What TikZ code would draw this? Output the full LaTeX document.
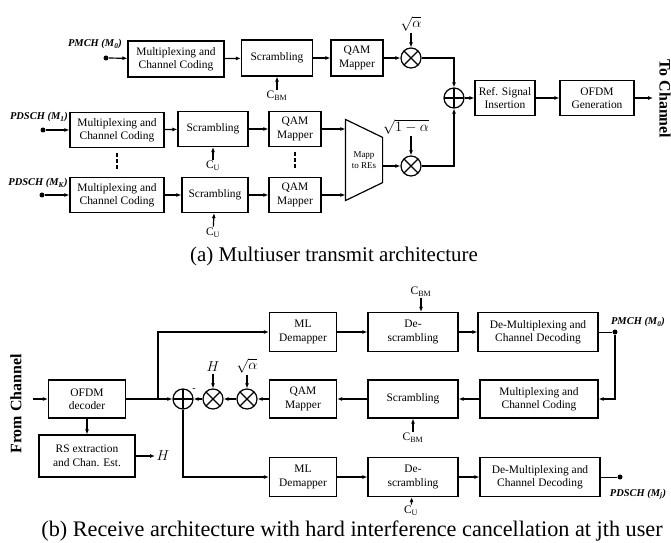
\documentclass[tikz,border=0pt]{standalone}
\usepackage{fontspec}
\setmainfont{Liberation Serif}
\usetikzlibrary{arrows.meta, positioning}

\begin{document}
\begin{tikzpicture}[x=1bp, y=-1bp, line width=1.2bp, >={Latex[length=5bp,width=4bp]},
  block/.style={draw, align=center, minimum height=36bp, inner sep=1bp,
    font=\fontsize{11.5}{13.5}\selectfont},
  mult/.style={draw, circle, minimum size=20bp, inner sep=0pt,
    path picture={\draw (path picture bounding box.north west) -- (path picture bounding box.south east)
      (path picture bounding box.north east) -- (path picture bounding box.south west);}},
  summ/.style={draw, circle, minimum size=20bp, inner sep=0pt,
    path picture={\draw (path picture bounding box.north) -- (path picture bounding box.south)
      (path picture bounding box.east) -- (path picture bounding box.west);}},
  cseq/.style={font=\fontsize{11.5}{13}\selectfont, inner sep=1bp},
  chanlbl/.style={font=\fontsize{10.5}{12}\selectfont\bfseries\itshape, inner sep=1bp},
  sidelbl/.style={font=\fontsize{16}{18}\selectfont\bfseries, inner sep=0pt},
  tap/.style={circle, fill, inner sep=0pt, minimum size=5bp},
  gain/.style={font=\fontsize{15}{17}\selectfont, inner sep=1bp},
  capt/.style={font=\fontsize{21}{24}\selectfont},
  vdots/.style={dash pattern=on 4bp off 2bp, line width=1.5bp}]
\useasboundingbox (0,0) rectangle (671,543);

% (a) transmitter
\node[tap] (in0) at (106,58) {};
\node[chanlbl] at (95,44) {PMCH (M\textsubscript{0})};
\node[block, minimum width=96bp] (mux0) at (176,59) {Multiplexing and\\Channel Coding};
\node[block, minimum width=71bp] (scr0) at (277,58) {Scrambling};
\node[cseq] (cbm0) at (277,96) {C\textsubscript{BM}};
\node[block, minimum width=52bp] (qam0) at (357,58) {QAM\\Mapper};
\node[mult] (mul0) at (411,58) {};
\node[gain] (a0) at (411,24) {$\sqrt{\alpha}$};
\node[summ] (sum) at (454,98) {};
\node[block, minimum width=60bp, minimum height=35bp] (rsi) at (505,98) {Ref. Signal\\Insertion};
\node[block, minimum width=74bp, minimum height=35bp] (ofdm) at (597,98) {OFDM\\Generation};
\coordinate (out) at (653,98);
\node[sidelbl, rotate=-90] at (665,99) {To Channel};

\node[tap] (in1) at (43,130) {};
\node[chanlbl] at (39,117) {PDSCH (M\textsubscript{1})};
\node[block, minimum width=94bp, minimum height=35bp] (mux1) at (117,130) {Multiplexing and\\Channel Coding};
\node[block, minimum width=70bp, minimum height=35bp] (scr1) at (213,129) {Scrambling};
\node[cseq] (cu1) at (213,166) {C\textsubscript{U}};
\node[block, minimum width=52bp, minimum height=35bp] (qam1) at (295,129) {QAM\\Mapper};

\node[tap] (inK) at (42,195) {};
\node[chanlbl] at (38,183) {PDSCH (M\textsubscript{K})};
\node[block, minimum width=94bp, minimum height=35bp] (muxK) at (117,195) {Multiplexing and\\Channel Coding};
\node[block, minimum width=66bp, minimum height=35bp] (scrK) at (215,195) {Scrambling};
\node[cseq] (cuK) at (213,233) {C\textsubscript{U}};
\node[block, minimum width=52bp, minimum height=35bp] (qamK) at (295,195) {QAM\\Mapper};

\node[font=\fontsize{9}{10.5}\selectfont, align=center, minimum width=36bp, minimum height=80bp,
  inner sep=0pt] (map) at (364,160) {Mapp\\to REs};
\draw (map.north west) -- ([yshift=-18bp]map.north east) -- ([yshift=18bp]map.south east)
  -- (map.south west) -- cycle;
\node[mult] (mul1) at (411,166) {};
\node[gain] (a1) at (406,127) {$\sqrt{1-\alpha}$};

\path[->]
  (in0) edge (mux0)
  (mux0) edge (scr0)
  (scr0) edge (qam0)
  (qam0) edge (mul0)
  (a0) edge (mul0)
  (cbm0) edge (scr0)
  (sum) edge (rsi)
  (rsi) edge (ofdm)
  (ofdm) edge (out)
  (in1) edge (mux1)
  (mux1) edge (scr1)
  (scr1) edge (qam1)
  (cu1) edge (scr1)
  (inK) edge (muxK)
  (muxK) edge (scrK)
  (scrK) edge (qamK)
  (cuK) edge (scrK)
  (qam1) edge (qam1 -| map.west)
  (qamK) edge (qamK -| map.west)
  (map.east |- mul1) edge (mul1)
  (a1.south -| mul1) edge (mul1);
\draw[->] (mul0) -| (sum);
\draw[->] (mul1) -| (sum);
\draw[vdots] ([yshift=-5bp]mux1.south) -- ([yshift=7bp]muxK.north);
\draw[vdots] ([yshift=-5bp]qam1.south) -- ([yshift=7bp]qamK.north);

\node[capt] at (334,256) {(a) Multiuser transmit architecture};

% (b) receiver
\node[sidelbl, rotate=90] at (16,404) {From Channel};
\coordinate (rx) at (33,399);
\node[block, minimum width=77bp, minimum height=38bp] (dec) at (87,399) {OFDM\\decoder};
\node[block, minimum width=96bp, minimum height=42bp] (rse) at (87,456) {RS extraction\\and Chan. Est.};
\node[gain] (hest) at (163,456) {$H$};
\coordinate (br) at (158,399);
\node[summ] (sumb) at (183,399) {};
\node at (194,390) {-};
\node[mult] (mulh) at (213,399) {};
\node[mult] (mula) at (247,399) {};
\node[gain] (hh) at (213,367) {$H$};
\node[gain] (aa) at (247,366) {$\sqrt{\alpha}$};

\node[block, minimum width=67bp, minimum height=39bp] (mld1) at (303,332) {ML\\Demapper};
\node[block, minimum width=90bp, minimum height=39bp] (dscr1) at (413,332) {De-\\scrambling};
\node[cseq] (cbm1) at (421,292) {C\textsubscript{BM}};
\node[block, minimum width=120bp, minimum height=39bp] (dmux1) at (538,332) {De-Multiplexing and\\Channel Decoding};
\node[tap] (out0) at (615,332) {};
\node[chanlbl] at (638,322) {PMCH (M\textsubscript{0})};

\node[block, minimum width=118bp, minimum height=38bp] (mux) at (539,399) {Multiplexing and\\Channel Coding};
\node[block, minimum width=90bp, minimum height=38bp] (scr) at (413,399) {Scrambling};
\node[cseq] (cbm2) at (413,438) {C\textsubscript{BM}};
\node[block, minimum width=67bp, minimum height=38bp] (qam) at (303,399) {QAM\\Mapper};

\node[block, minimum width=67bp, minimum height=39bp] (mld2) at (303,477) {ML\\Demapper};
\node[block, minimum width=90bp, minimum height=39bp] (dscr2) at (413,477) {De-\\scrambling};
\node[cseq] (cuj) at (411,511) {C\textsubscript{U}};
\node[block, minimum width=120bp, minimum height=39bp] (dmux2) at (540,477) {De-Multiplexing and\\Channel Decoding};
\node[tap] (outj) at (620,477) {};
\node[chanlbl] at (638,494) {PDSCH (M\textsubscript{j})};

\path[->]
  (rx) edge (dec)
  (dec) edge (rse)
  (rse) edge (hest)
  (dec) edge (sumb)
  (mld1) edge (dscr1)
  (dscr1) edge (dmux1)
  (cbm1) edge (cbm1 |- dscr1.north)
  (mux) edge (scr)
  (scr) edge (qam)
  (cbm2) edge (scr)
  (qam) edge (mula)
  (mula) edge (mulh)
  (mulh) edge (sumb)
  (hh) edge (mulh)
  (aa) edge (mula)
  (mld2) edge (dscr2)
  (dscr2) edge (dmux2)
  (cuj) edge (dscr2);
\draw[->] (br) |- (mld1);
\draw[->] (sumb) |- (mld2);
\draw[->] (out0) |- (mux);
\draw[line width=0.8bp] (dmux1) -- (out0);
\draw[line width=0.8bp] (dmux2) -- (outj);

\node[capt, font=\fontsize{22.3}{25}\selectfont] at (352,531) {(b) Receive architecture with hard interference cancellation at jth user};
\end{tikzpicture}
\end{document}
